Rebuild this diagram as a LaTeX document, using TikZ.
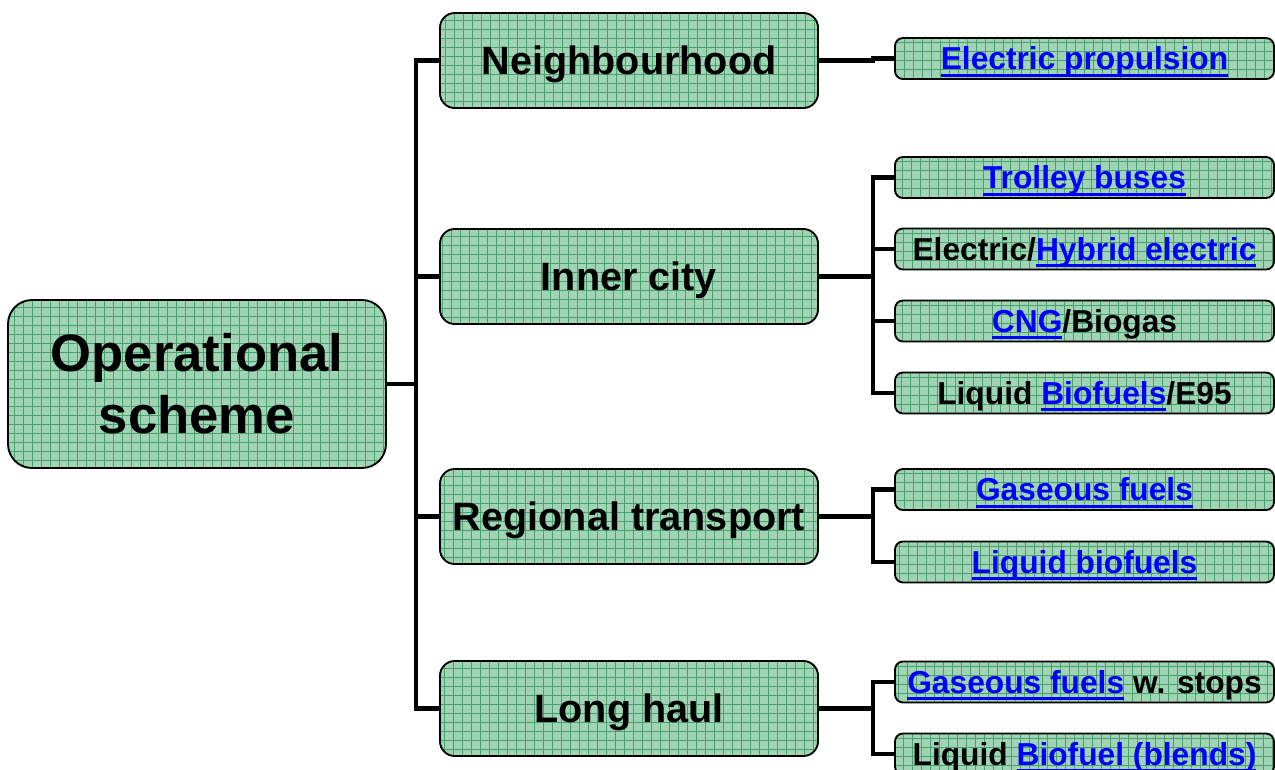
\documentclass[tikz,border=0pt]{standalone}
\usepackage{fontspec}
\setmainfont{Liberation Sans}
\usepackage{tikz}
\definecolor{boxgreen}{RGB}{160,212,180}
\definecolor{gridgreen}{RGB}{72,162,112}
\definecolor{linkblue}{RGB}{0,0,255}
% underlined blue link text
\newcommand{\lnk}[1]{{\color{linkblue}\setbox0\hbox{#1}%
  \rlap{\vrule height -3pt depth 5.2pt width \wd0}\box0}}

\tikzset{
  gridbox/.style={draw=black, line width=1.4pt, fill=boxgreen,
    path picture={\draw[gridgreen, line width=0.6pt]
      (path picture bounding box.south west) grid[xstep=9, ystep=-9]
      (path picture bounding box.north east);},
    inner sep=0pt, align=center},
  rootbox/.style={gridbox, rounded corners=18pt, minimum width=283.5pt, minimum height=126pt,
    font=\fontsize{39.5}{46.5}\selectfont\bfseries},
  midbox/.style={gridbox, rounded corners=11pt, minimum width=283.5pt, minimum height=71.25pt,
    text height=21.3pt, text depth=0pt, font=\fontsize{29.7}{34}\selectfont\bfseries},
  leafbox/.style={gridbox, rounded corners=6pt, minimum width=284.25pt, minimum height=30.75pt,
    text height=17pt, text depth=0pt, font=\fontsize{23.8}{28}\selectfont\bfseries},
  conn/.style={line width=3.5pt}
}

\begin{document}
\begin{tikzpicture}[x=0.75pt, y=-0.75pt]
  \useasboundingbox (0,0) rectangle (1275,769);

  % root
  \node[rootbox] (op) at (197,384) {Operational\\scheme};

  % schemes
  \node[midbox] (nb) at (629,60.5) {Neighbourhood};
  \node[midbox] (ic) at (629,276.5) {Inner city};
  \node[midbox] (rt) at (629,516.5) {Regional transport};
  \node[midbox] (lh) at (629,708.5) {Long haul};

  % fuel options
  \node[leafbox] (ep) at (1084.5,58.5) {\lnk{Electric propulsion}};
  \node[leafbox] (tb) at (1084.5,177.5) {\lnk{Trolley buses}};
  \node[leafbox] (he) at (1084.5,249) {Electric/\lnk{Hybrid electric}};
  \node[leafbox] (cng) at (1084.5,321) {\lnk{CNG}/Biogas};
  \node[leafbox] (lb) at (1084.5,393) {Liquid \lnk{Biofuels}/E95};
  \node[leafbox] (gf) at (1084.5,489.5) {\lnk{Gaseous fuels}};
  \node[leafbox] (lqb) at (1084.5,562) {\lnk{Liquid biofuels}};
  \node[leafbox] (gs) at (1084.5,682) {\lnk{Gaseous fuels} w. stops};
  \node[leafbox] (bl) at (1084.5,754) {Liquid \lnk{Biofuel (blends)}};

  % connectors
  \foreach \m in {nb,ic,rt,lh}
    \draw[conn] (op.east) -- ++(29,0) |- (\m.west);
  \draw[conn] (nb.east) -- ++(54,0) |- (ep.west);
  \foreach \r in {tb,he,cng,lb}
    \draw[conn] (ic.east) -- ++(54,0) |- (\r.west);
  \foreach \r in {gf,lqb}
    \draw[conn] (rt.east) -- ++(54,0) |- (\r.west);
  \foreach \r in {gs,bl}
    \draw[conn] (lh.east) -- ++(54,0) |- (\r.west);
\end{tikzpicture}
\end{document}
